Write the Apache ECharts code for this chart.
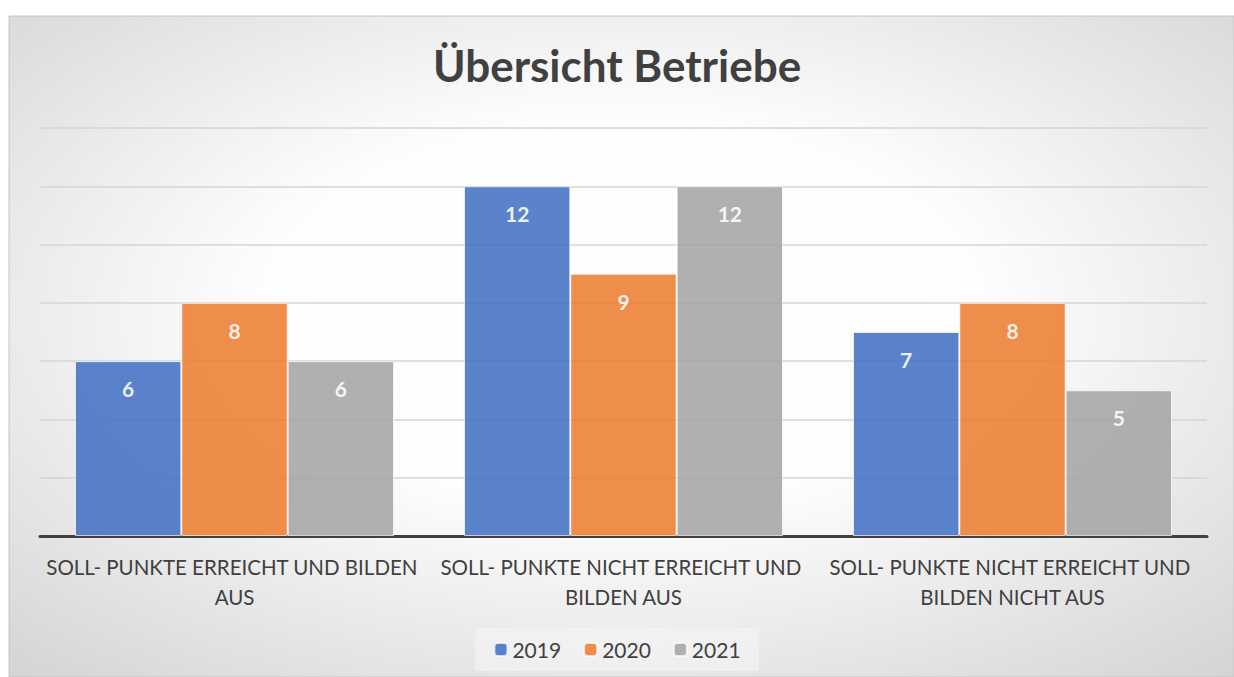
<!DOCTYPE html>
<html>
<head>
<meta charset="utf-8">
<script src="https://cdn.jsdelivr.net/npm/echarts@6/dist/echarts.min.js"></script>
<style>
  html, body { margin: 0; padding: 0; background: #fff; }
  #chart { width: 1234px; height: 677px; }
</style>
</head>
<body>
<div id="chart"></div>
<script>
// Daten
const categories = [
  'SOLL- PUNKTE ERREICHT UND BILDEN AUS',
  'SOLL- PUNKTE NICHT ERREICHT UND BILDEN AUS',
  'SOLL- PUNKTE NICHT ERREICHT UND BILDEN NICHT AUS'
];
const years = ['2019', '2020', '2021'];
const values2019 = [6, 12, 7];
const values2020 = [8, 9, 8];
const values2021 = [6, 12, 5];
const colors = ['#4472C4', '#ED7D31', '#A5A5A5'];

const FONT = 'Lato, "Open Sans", sans-serif';

const chart = echarts.init(document.getElementById('chart'), null, { renderer: 'svg' });

function makeSeries(name, data, color) {
  return {
    name: name,
    type: 'bar',
    data: data,
    barGap: '0%',
    barCategoryGap: '18%',
    itemStyle: { color: color, opacity: 0.88, borderColor: 'rgba(255,255,255,0.8)', borderWidth: 1 },
    label: {
      show: true,
      position: 'insideTop',
      distance: 17,
      color: '#fff',
      fontSize: 21,
      fontWeight: 'bold',
      fontFamily: FONT
    },
    emphasis: { disabled: true }
  };
}

chart.setOption({
  backgroundColor: '#fff',
  animation: false,
  graphic: [{
    type: 'rect',
    z: -10,
    silent: true,
    shape: { x: 9, y: 16, width: 1225, height: 661 },
    style: {
      fill: new echarts.graphic.RadialGradient(0.5, 0.45, 1.0, [
        { offset: 0, color: '#ffffff' },
        { offset: 0.3, color: '#fdfdfd' },
        { offset: 1, color: '#bcbcbc' }
      ]),
      stroke: '#c4c4c4',
      lineWidth: 1
    }
  }],
  title: {
    text: 'Übersicht Betriebe',
    left: 'center',
    top: 38,
    textStyle: {
      fontSize: 44,
      fontWeight: 'bold',
      color: '#404040',
      fontFamily: FONT
    }
  },
  legend: {
    data: years,
    bottom: 6,
    left: 'center',
    itemWidth: 13,
    itemHeight: 13,
    itemGap: 22,
    padding: [11, 18, 11, 18],
    backgroundColor: 'rgba(245,245,245,0.55)',
    textStyle: { fontSize: 21, color: '#404040', fontFamily: FONT }
  },
  grid: { left: 40, right: 27, top: 128, bottom: 141 },
  xAxis: {
    type: 'category',
    data: categories,
    axisTick: { show: false },
    axisLine: { lineStyle: { color: '#404040', width: 3 } },
    axisLabel: {
      interval: 0,
      margin: 16,
      width: 385,
      overflow: 'break',
      lineHeight: 30,
      fontSize: 20.5,
      color: '#404040',
      fontFamily: FONT
    }
  },
  yAxis: {
    type: 'value',
    min: 0,
    max: 14,
    interval: 2,
    axisLabel: { show: false },
    axisLine: { show: false },
    axisTick: { show: false },
    splitLine: { lineStyle: { color: '#d4d4d4', width: 1.5 } }
  },
  series: [
    makeSeries(years[0], values2019, colors[0]),
    makeSeries(years[1], values2020, colors[1]),
    makeSeries(years[2], values2021, colors[2])
  ]
});
</script>
</body>
</html>
